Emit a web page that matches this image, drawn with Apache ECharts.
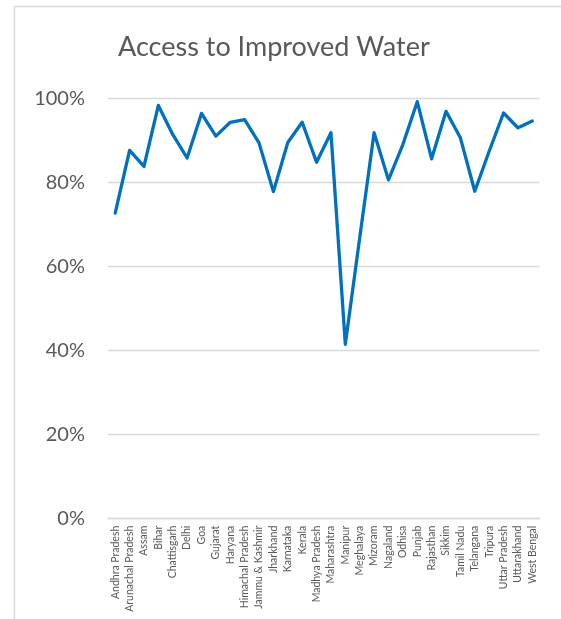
<!DOCTYPE html>
<html>
<head>
<meta charset="utf-8">
<script src="https://cdn.jsdelivr.net/npm/echarts@6/dist/echarts.min.js"></script>
<style>
  html, body { margin: 0; padding: 0; background: #ffffff; overflow: hidden; }
  #chart { width: 561px; height: 619px; }
</style>
</head>
<body>
<div id="chart"></div>
<script>
// States / UTs along the x axis
const states = [
  "Andhra Pradesh", "Arunachal Pradesh", "Assam", "Bihar", "Chattisgarh",
  "Delhi", "Goa", "Gujarat", "Haryana", "Himachal Pradesh",
  "Jammu & Kashmir", "Jharkhand", "Karnataka", "Kerala", "Madhya Pradesh",
  "Maharashtra", "Manipur", "Meghalaya", "Mizoram", "Nagaland",
  "Odhisa", "Punjab", "Rajasthan", "Sikkim", "Tamil Nadu",
  "Telangana", "Tripura", "Uttar Pradesh", "Uttarakhand", "West Bengal"
];

// Share of households with access to improved drinking water (%)
const improvedWater = [
  72.7, 87.6, 83.8, 98.3, 91.4,
  85.8, 96.4, 91.0, 94.3, 94.9,
  89.4, 77.8, 89.5, 94.3, 84.8,
  91.8, 41.5, 66.8, 91.8, 80.6,
  89.0, 99.2, 85.6, 96.9, 90.6,
  77.9, 87.4, 96.5, 93.0, 94.6
];

// Y axis ticks (%)
const yTicks = [0, 20, 40, 60, 80, 100];

const chart = echarts.init(document.getElementById('chart'), null, { renderer: 'canvas' });

const textColor = '#595959';
const gridColor = '#d9d9d9';
const fontFamily = 'Lato, "Open Sans", "Liberation Sans", sans-serif';

chart.setOption({
  animation: false,
  backgroundColor: '#ffffff',
  title: {
    text: 'Access to Improved Water',
    left: 113,
    top: 29,
    textStyle: {
      fontFamily: fontFamily,
      fontSize: 27,
      fontWeight: 'normal',
      color: textColor
    }
  },
  graphic: [{
    type: 'rect',
    silent: true,
    shape: { x: 14.5, y: 6.5, width: 700, height: 700 },
    style: { fill: 'none', stroke: gridColor, lineWidth: 1.5 }
  }],
  grid: {
    left: 108,
    right: 21.5,
    top: 98.3,
    bottom: 100.3,
    containLabel: false
  },
  xAxis: {
    type: 'category',
    data: states,
    boundaryGap: true,
    axisLine: { show: true, lineStyle: { color: gridColor, width: 1.3 } },
    axisTick: { show: false },
    axisLabel: {
      rotate: 90,
      interval: 0,
      margin: 7,
      fontFamily: fontFamily,
      fontSize: 10.5,
      color: textColor
    }
  },
  yAxis: {
    type: 'value',
    min: yTicks[0],
    max: yTicks[yTicks.length - 1],
    interval: yTicks[1] - yTicks[0],
    axisLine: { show: false },
    axisTick: { show: false },
    splitLine: { show: true, lineStyle: { color: gridColor, width: 1.3 } },
    axisLabel: {
      margin: 23,
      fontFamily: fontFamily,
      fontSize: 20,
      color: textColor,
      formatter: v => v + '%'
    }
  },
  series: [{
    type: 'line',
    data: improvedWater,
    symbol: 'none',
    smooth: false,
    lineStyle: { color: '#0070C0', width: 3.3, cap: 'round', join: 'round' }
  }]
});
</script>
</body>
</html>
